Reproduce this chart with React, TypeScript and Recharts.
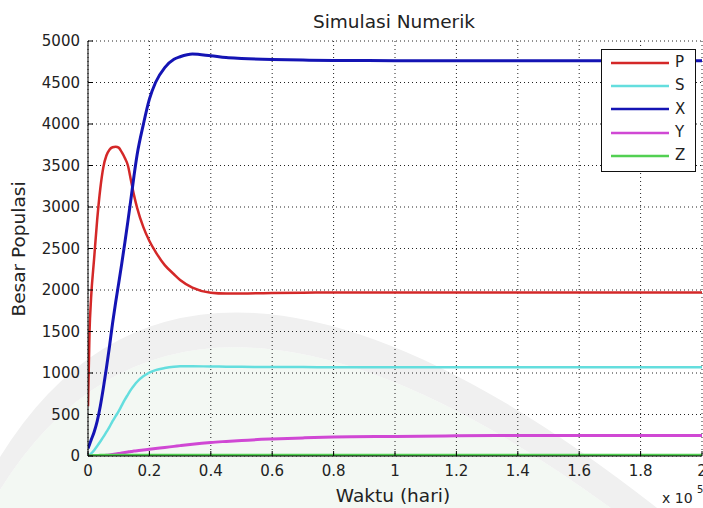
import React from 'react';
import { LineChart, Line, XAxis, YAxis, CartesianGrid, Legend } from 'recharts';

// Time in units of 1e5 days
const time = [
  0, 0.005, 0.01, 0.02, 0.03, 0.04, 0.05, 0.06, 0.07, 0.08, 0.09, 0.1, 0.11, 0.12, 0.13,
  0.14, 0.15, 0.16, 0.18, 0.2, 0.22, 0.25, 0.28, 0.3, 0.34, 0.4, 0.45, 0.5, 0.6, 0.7, 0.8,
  1.0, 1.2, 1.4, 1.6, 1.8, 2.0,
];

const pValues = [
  600, 1500, 1900, 2380, 2850, 3220, 3480, 3620, 3690, 3720, 3727, 3715, 3660, 3590, 3500,
  3320, 3140, 2990, 2760, 2590, 2460, 2300, 2190, 2120, 2030, 1968, 1958, 1958, 1965, 1968, 1970,
  1970, 1970, 1970, 1970, 1970, 1970,
];

const sValues = [
  0, 12, 28, 70, 120, 175, 230, 290, 350, 420, 480, 540, 610, 680, 740,
  800, 850, 895, 960, 1005, 1035, 1060, 1075, 1080, 1082, 1078, 1076, 1074, 1072, 1071, 1070,
  1070, 1070, 1070, 1070, 1070, 1070,
];

const xValues = [
  90, 140, 190, 290, 420, 600, 820, 1060, 1320, 1600, 1850, 2080, 2320, 2570, 2830,
  3100, 3380, 3630, 3990, 4300, 4500, 4680, 4780, 4810, 4843, 4822, 4800, 4790, 4777, 4770, 4766,
  4763, 4762, 4762, 4762, 4762, 4762,
];

const yValues = [
  0, 0, 1, 2, 3, 4, 5, 8, 12, 17, 23, 30, 36, 42, 48,
  54, 59, 64, 72, 80, 89, 103, 116, 125, 142, 163, 176, 188, 205, 218, 228,
  236, 243, 246, 246, 246, 246,
];

const zValues = [
  0, 2, 4, 6, 7, 8, 8, 8, 8, 8, 8, 8, 8, 8, 8,
  8, 8, 8, 8, 8, 8, 8, 8, 8, 8, 8, 8, 8, 8, 8, 8,
  8, 8, 8, 8, 8, 8,
];

const xTicks = [0, 0.2, 0.4, 0.6, 0.8, 1, 1.2, 1.4, 1.6, 1.8, 2];
const yTicks = [0, 500, 1000, 1500, 2000, 2500, 3000, 3500, 4000, 4500, 5000];

const series = [
  { key: 'P', color: '#d42828', width: 2.5 },
  { key: 'S', color: '#64dede', width: 2.5 },
  { key: 'X', color: '#1414b4', width: 3 },
  { key: 'Y', color: '#d048d4', width: 3 },
  { key: 'Z', color: '#52d052', width: 3 },
];

const rows = time.map((t, i) => ({
  t,
  P: pValues[i],
  S: sValues[i],
  X: xValues[i],
  Y: yValues[i],
  Z: zValues[i],
}));

const FONT = '"DejaVu Sans", sans-serif';
const TEXT = '#222';

const YTick = (props: any) => {
  const { x, y, payload } = props;
  return (
    <g>
      <line x1={x + 8} x2={x + 13} y1={y} y2={y} stroke="#000" strokeWidth={1} />
      <text x={x} y={y} dy="0.36em" textAnchor="end" fontFamily={FONT} fontSize={15} fill={TEXT}>
        {payload.value}
      </text>
    </g>
  );
};

const XTick = (props: any) => {
  const { x, y, payload } = props;
  return (
    <g>
      <line x1={x} x2={x} y1={y - 9} y2={y - 14} stroke="#000" strokeWidth={1} />
      <text x={x} y={y} dy="0.72em" textAnchor="middle" fontFamily={FONT} fontSize={15} fill={TEXT}>
        {payload.value}
      </text>
    </g>
  );
};

const LegendBox = (props: any) => {
  const payload = props.payload || [];
  return (
    <div
      style={{
        width: 93,
        height: 120,
        border: '1px solid #111',
        background: '#fff',
        boxSizing: 'content-box',
        paddingTop: 1,
      }}
    >
      {payload.map((entry: any) => (
        <div key={entry.value} style={{ height: 23.3, display: 'flex', alignItems: 'center', position: 'relative' }}>
          <svg width={70} height={10} style={{ display: 'block' }}>
            <line x1={9} x2={67} y1={5} y2={5} stroke={entry.color} strokeWidth={2.5} />
          </svg>
          <span style={{ fontFamily: FONT, fontSize: 15, color: TEXT, marginLeft: 3, lineHeight: '15px' }}>
            {entry.value}
          </span>
        </div>
      ))}
    </div>
  );
};

// Faint background emblem behind the figure
const Watermark = () => (
  <svg width={703} height={508} style={{ position: 'absolute', left: 0, top: 0 }}>
    <path d="M0,490 Q202,165 703,580 L703,508 L0,508 Z" fill="#f3f8f3" />
    <path d="M0,457 Q202,129 703,545 L703,580 Q202,165 0,490 Z" fill="#f0f0f0" />
  </svg>
);

export default function App() {
  return (
    <div
      style={{
        position: 'fixed',
        left: 0,
        top: 0,
        width: 703,
        height: 508,
        overflow: 'hidden',
        background: '#fff',
      }}
    >
      <Watermark />
      <div style={{ position: 'absolute', left: 0, top: 0 }}>
        <LineChart width={730} height={508} data={rows} margin={{ top: 41, right: 28, bottom: 22, left: 28 }}>
          <CartesianGrid stroke="#222" strokeDasharray="1 3" strokeWidth={1} />
          <XAxis
            type="number"
            dataKey="t"
            domain={[0, 2]}
            ticks={xTicks}
            interval={0}
            height={30}
            tickSize={0}
            tickMargin={9}
            tickLine={false}
            axisLine={{ stroke: '#000', strokeWidth: 1 }}
            tick={<XTick />}
            allowDataOverflow
          />
          <YAxis
            type="number"
            domain={[0, 5000]}
            ticks={yTicks}
            interval={0}
            width={60}
            tickSize={0}
            tickMargin={8}
            tickLine={false}
            axisLine={{ stroke: '#000', strokeWidth: 1 }}
            tick={<YTick />}
            allowDataOverflow
          />
          {series.map((s) => (
            <Line
              key={s.key}
              dataKey={s.key}
              name={s.key}
              type="monotone"
              stroke={s.color}
              strokeWidth={s.width}
              dot={false}
              activeDot={false}
              isAnimationActive={false}
            />
          ))}
          <Legend
            layout="vertical"
            align="center"
            verticalAlign="middle"
            content={<LegendBox />}
            wrapperStyle={{ left: 601, top: 49, width: 95, height: 122 }}
          />
        </LineChart>
      </div>
      <svg
        width={703}
        height={508}
        style={{ position: 'absolute', left: 0, top: 0, pointerEvents: 'none' }}
      >
        <text x={394} y={28} textAnchor="middle" fontFamily={FONT} fontSize={18.5} fill={TEXT}>
          Simulasi Numerik
        </text>
        <text x={393} y={502} textAnchor="middle" fontFamily={FONT} fontSize={18.5} fill={TEXT}>
          Waktu (hari)
        </text>
        <text
          transform="translate(25 249) rotate(-90)"
          textAnchor="middle"
          fontFamily={FONT}
          fontSize={18.5}
          fill={TEXT}
        >
          Besar Populasi
        </text>
        <text x={662} y={503} fontFamily={FONT} fontSize={14} fill={TEXT}>
          x 10
        </text>
        <text x={697} y={493} fontFamily={FONT} fontSize={10} fill={TEXT}>
          5
        </text>
      </svg>
    </div>
  );
}
